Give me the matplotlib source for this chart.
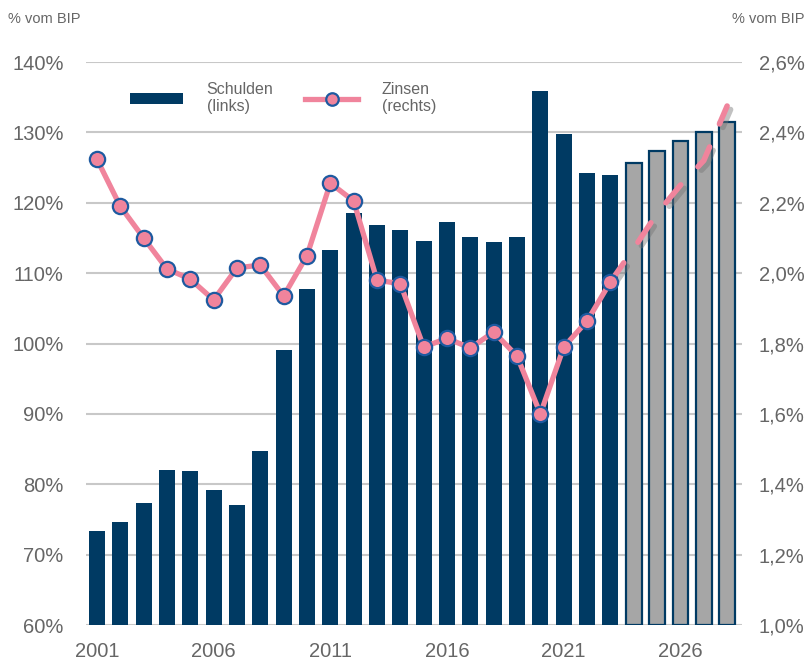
import numpy as np
import matplotlib.pyplot as plt
from matplotlib.patches import Patch
from matplotlib.lines import Line2D
from matplotlib.ticker import FuncFormatter
import matplotlib.patheffects as pe

plt.rcParams['font.family'] = ['Liberation Sans', 'DejaVu Sans']

years = list(range(2001, 2029))
schulden = [73.3, 74.7, 77.4, 82.0, 81.9, 79.2, 77.1, 84.7, 99.1, 107.8,
            113.3, 118.5, 116.8, 116.1, 114.6, 117.3, 115.1, 114.4, 115.1, 135.9,
            129.8, 124.3, 124.0, 125.6, 127.4, 128.8, 130.0, 131.5]
prognose_ab = 2024

zins_years = list(range(2001, 2024))
zinsen = [2.324, 2.19, 2.10, 2.012, 1.983, 1.924, 2.015, 2.023, 1.935, 2.05,
          2.256, 2.205, 1.98, 1.97, 1.79, 1.815, 1.787, 1.833, 1.764, 1.60,
          1.79, 1.864, 1.975]
proj_years = [2023, 2024, 2025, 2026, 2027, 2028.0]
proj_zinsen = [1.975, 2.07, 2.17, 2.25, 2.32, 2.475]

navy = '#003a63'
pink = '#f0849c'
grey_txt = '#666666'

fig = plt.figure(figsize=(8.11, 6.6), dpi=100)
ax = fig.add_axes([0.106, 0.053, 0.809, 0.853])

colors = [navy if y < prognose_ab else '#a6a6a6' for y in years]
ax.bar(years, [s - 60 for s in schulden], bottom=60, width=0.68,
       color=colors, edgecolor=navy,
       linewidth=[0 if y < prognose_ab else 1.6 for y in years], zorder=2)

ax.set_xlim(2000.53, 2028.64)
ax.set_ylim(60, 140)
ax.set_yticks(np.arange(60, 141, 10))
ax.yaxis.set_major_formatter(FuncFormatter(lambda v, p: f'{v:.0f}%'))
ax.set_xticks([2001, 2006, 2011, 2016, 2021, 2026])
ax.grid(axis='y', color='#c8c8c8', linewidth=1.5, zorder=0)
ax.set_axisbelow(True)
for s in ax.spines.values():
    s.set_visible(False)
ax.tick_params(length=0, labelsize=14.5, colors=grey_txt)
ax.tick_params(axis='x', pad=12)
ax.tick_params(axis='y', pad=16)

ax2 = ax.twinx()
ax2.set_ylim(1.0, 2.6)
ax2.set_yticks(np.arange(1.0, 2.61, 0.2))
ax2.yaxis.set_major_formatter(FuncFormatter(lambda v, p: f'{v:.1f}%'.replace('.', ',')))
for s in ax2.spines.values():
    s.set_visible(False)
ax2.tick_params(length=0, labelsize=14.5, colors=grey_txt, pad=12)

# Prognose: gestrichelt mit Schatten
ax2.plot(proj_years, proj_zinsen, color=pink, linewidth=4, dashes=(4.2, 4.5),
         dash_capstyle='round', zorder=3,
         path_effects=[pe.SimpleLineShadow(offset=(2.5, -2.5), shadow_color='#777777', alpha=0.45),
                       pe.Normal()])
ax2.plot(zins_years, zinsen, color=pink, linewidth=3.8, marker='o', markersize=11,
         markerfacecolor=pink, markeredgecolor='#1e5aa0', markeredgewidth=1.6, zorder=4)

fig.text(0.01, 0.965, '% vom BIP', fontsize=10.5, color=grey_txt)
fig.text(0.902, 0.965, '% vom BIP', fontsize=10.5, color=grey_txt)

handles = [Patch(facecolor=navy, edgecolor='none'),
           Line2D([], [], color=pink, linewidth=3.8, marker='o', markersize=9,
                  markerfacecolor=pink, markeredgecolor='#1e5aa0', markeredgewidth=1.6)]
ax2.legend(handles, ['Schulden\n(links)', 'Zinsen\n(rechts)'], ncol=2, frameon=False,
           loc='upper left', bbox_to_anchor=(0.045, 0.99), fontsize=11.5,
           handlelength=3.3, handleheight=0.65, handletextpad=1.5, columnspacing=2.0,
           labelcolor=grey_txt)

fig.savefig('out.png', dpi=100)
